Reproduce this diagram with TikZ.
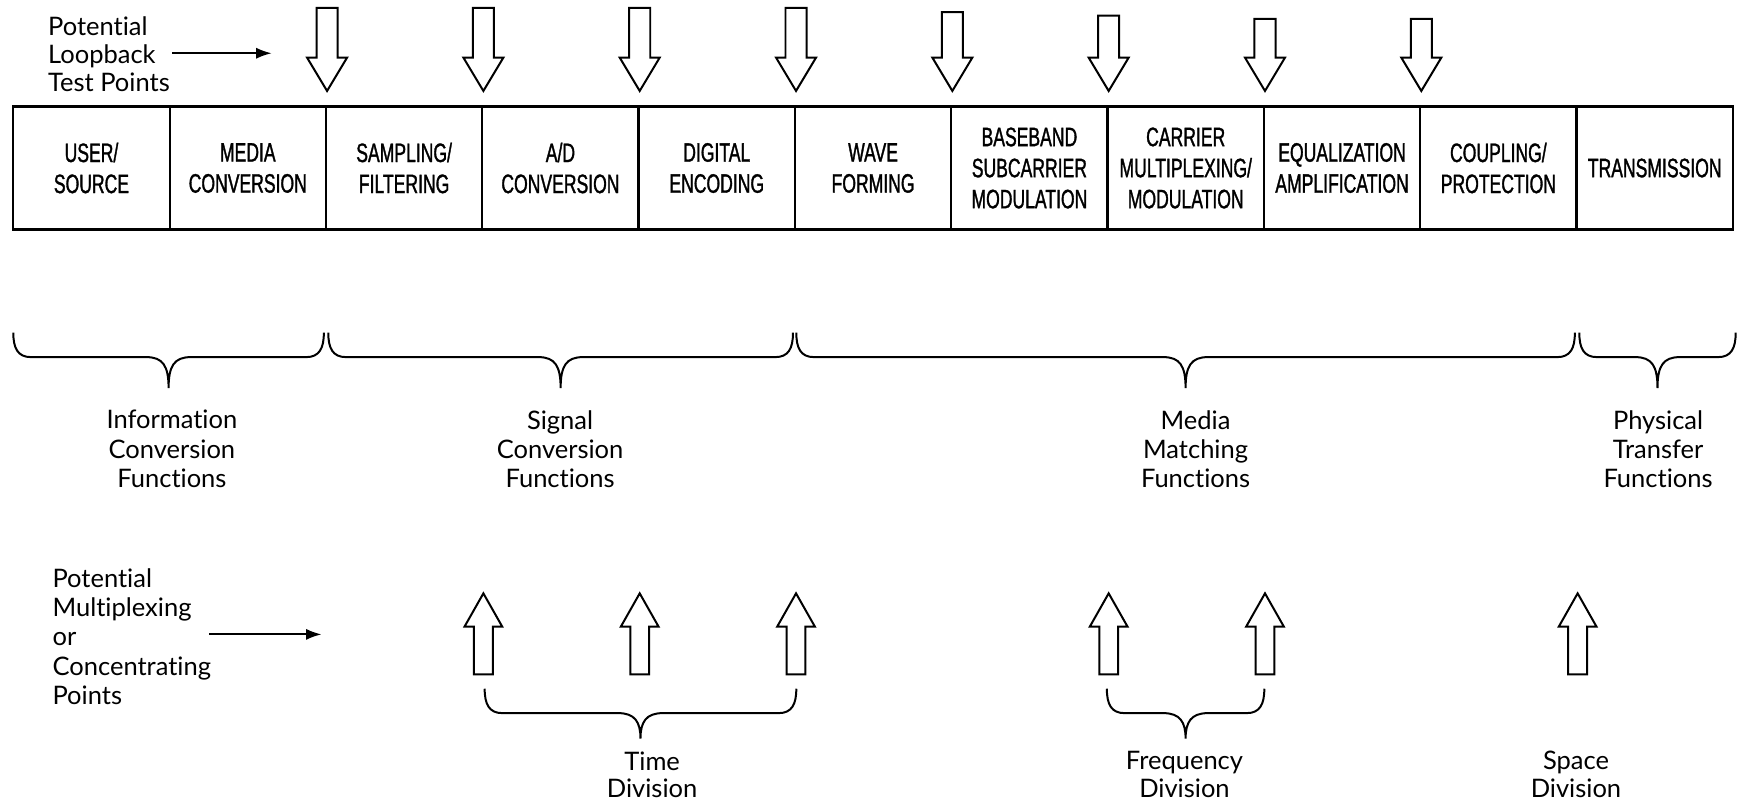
\documentclass[tikz,border=0pt]{standalone}
\usepackage{fontspec}
\setmainfont{Lato}[Ligatures=NoCommon]
\newfontfamily\capsfont[FakeStretch=0.66, FakeBold=1.2]{Liberation Sans}
\usetikzlibrary{arrows.meta,calc}

% curly brace opening downwards: #1 = left x, #2 = right x, #3 = top y, #4 = tip y
\newcommand{\hbrace}[4]{%
  \draw[brc] (#1,#3) .. controls (#1,#3+14) and (#1+4,#3+22) .. (#1+16,#3+22)
    -- ({(#1+#2)/2-20},#3+22)
    .. controls ({(#1+#2)/2-5},#3+22) and ({(#1+#2)/2},#3+30) .. ({(#1+#2)/2},#4)
    .. controls ({(#1+#2)/2},#3+30) and ({(#1+#2)/2+5},#3+22) .. ({(#1+#2)/2+20},#3+22)
    -- (#2-16,#3+22) .. controls (#2-4,#3+22) and (#2,#3+14) .. (#2,#3);
}

\tikzset{
  cell/.style={draw, line width=1pt, minimum width=70.475pt, minimum height=55.5pt,
    inner sep=0pt, align=center, font=\capsfont\fontsize{12}{14}\selectfont},
  blk/.style={draw, line width=0.9pt, fill=white, line join=miter},
  brc/.style={draw, line width=0.9pt},
  ptr/.style={line width=0.9pt, -{Latex[length=7pt,width=5pt]}},
  lbl/.style={align=center, inner sep=0pt, font=\fontsize{11.5}{13.25}\selectfont},
  side/.style={align=left, inner sep=0pt, anchor=west},
  pics/tpdown/.style={code={%
    \draw[blk] (0,0) -- (-18,-30) -- (-9.5,-30) -- (-9.5,-#1) -- (9.5,-#1)
      -- (9.5,-30) -- (18,-30) -- cycle;}},
  pics/mxup/.style={code={%
    \draw[blk] (0,0) -- (17,30) -- (8.5,30) -- (8.5,73) -- (-8.5,73)
      -- (-8.5,30) -- (-17,30) -- cycle;}},
}

\begin{document}
\begin{tikzpicture}[x=0.5pt, y=-0.5pt]
\useasboundingbox (0,0) rectangle (1568,725);
\fill[white] (0,0) rectangle (1568,725);

% chain of functions
\foreach \txt [count=\i] in {{USER/\\SOURCE},{MEDIA\\CONVERSION},{SAMPLING/\\FILTERING},
    {A/D\\CONVERSION},{DIGITAL\\ENCODING},{WAVE\\FORMING},{BASEBAND\\SUBCARRIER\\MODULATION},
    {CARRIER\\MULTIPLEXING/\\MODULATION},{EQUALIZATION\\AMPLIFICATION},{COUPLING/\\PROTECTION},
    {TRANSMISSION}}
  \node[cell] (c\i) at ({12+140.95*(\i-0.5)},151.5) {\txt};

% loopback test points
\foreach \i/\len in {2/75,3/75,4/75,5/75,6/71,7/68,8/65,9/65}
  \pic at ($(c\i.north east)+(0,-13)$) {tpdown=\len};

\node[side, font=\fontsize{11.5}{12.5}\selectfont] (ltp) at (43,49)
  {Potential\\Loopback\\Test Points};
\coordinate (ltpend) at (245,48);
\draw[ptr] ($(ltp.east)+(2,-1)$) -- (ltpend);

% function groups
\hbrace{12}{292}{300}{350}
\hbrace{296}{715}{300}{350}
\hbrace{718}{1420}{300}{350}
\hbrace{1424}{1565}{300}{350}

\node[lbl] (gi) at (155,405) {Information\\Conversion\\Functions};
\node[lbl] (gs) at (505,405) {Signal\\Conversion\\Functions};
\node[lbl] (gm) at (1078,405) {Media\\Matching\\Functions};
\node[lbl] (gp) at (1495,405) {Physical\\Transfer\\Functions};

% multiplexing / concentrating points
\node[side, font=\fontsize{11.5}{13.25}\selectfont] (mcp) at (47,574)
  {Potential\\Multiplexing\\or\\Concentrating\\Points};
\coordinate (mcpend) at (290,572);
\draw[ptr] ($(mcp.east)+(-2,-2)$) -- (mcpend);

\foreach \i in {3,4,5,7,8,10}
  \pic at (c\i.south east |- 0,535) {mxup};

\hbrace{437}{718}{621}{666}
\hbrace{998}{1140}{621}{666}

\node[lbl, font=\fontsize{11.5}{12.5}\selectfont] (td) at (588,698.5) {Time\\Division};
\node[lbl, font=\fontsize{11.5}{12.5}\selectfont] (fd) at (1068,698.5) {Frequency\\Division};
\node[lbl, font=\fontsize{11.5}{12.5}\selectfont] (sd) at (1421,698.5) {Space\\Division};
\end{tikzpicture}
\end{document}
